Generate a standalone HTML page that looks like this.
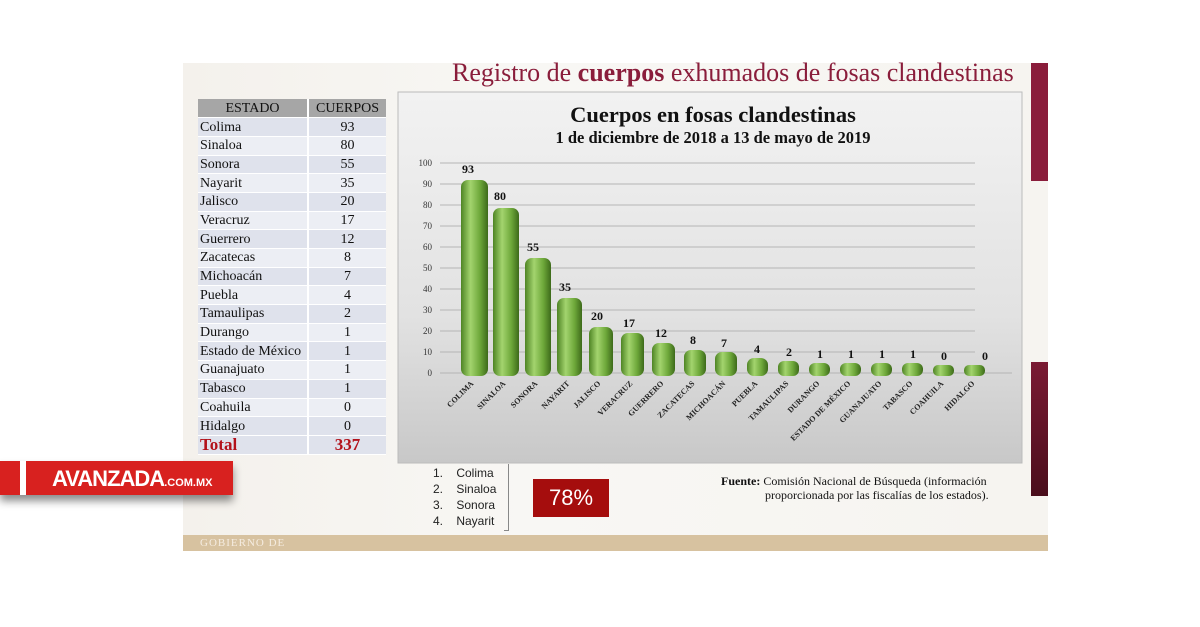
<!DOCTYPE html>
<html><head><meta charset="utf-8"><style>
body{margin:0;width:1200px;height:627px;background:#fff;position:relative;overflow:hidden;font-family:"Liberation Serif",serif}
.abs{position:absolute}
#slide{left:183px;top:63px;width:865px;height:488px;background:linear-gradient(90deg,#f4f1ec,#f8f7f4 40%,#f6f4f0)}
table{border-collapse:collapse;font-size:14px;color:#111;table-layout:fixed}
td{height:18.7px;padding:0 2px;line-height:17px;border-bottom:1px solid #fff;box-sizing:border-box;white-space:nowrap;overflow:hidden}
</style></head><body>
<div id="slide" class="abs"></div>
<div class="abs" style="left:183px;top:535px;width:865px;height:16px;background:#d7c2a0"></div>
<div class="abs" style="left:200px;top:537px;font-size:11px;color:#f5ece0;letter-spacing:1px">GOBIERNO DE</div>
<div class="abs" style="left:1031px;top:63px;width:17px;height:118px;background:#8a1d3b"></div>
<div class="abs" style="left:1031px;top:362px;width:17px;height:134px;background:linear-gradient(#7a1a33,#4a0e1c)"></div>
<div class="abs" style="left:452px;top:58px;font-size:26px;color:#8a1d3b;white-space:nowrap">Registro de <b>cuerpos</b> exhumados de fosas clandestinas</div>
<table class="abs" style="left:198px;top:99px;width:188px">
<colgroup><col style="width:110px"><col style="width:78px"></colgroup>
<tr style="background:#a6a6a6"><td style="text-align:center">ESTADO</td><td style="text-align:center;border-left:2px solid #fff">CUERPOS</td></tr>
<tr style="background:#dfe2ec"><td>Colima</td><td style="text-align:center;border-left:2px solid #fff">93</td></tr>
<tr style="background:#eceef4"><td>Sinaloa</td><td style="text-align:center;border-left:2px solid #fff">80</td></tr>
<tr style="background:#dfe2ec"><td>Sonora</td><td style="text-align:center;border-left:2px solid #fff">55</td></tr>
<tr style="background:#eceef4"><td>Nayarit</td><td style="text-align:center;border-left:2px solid #fff">35</td></tr>
<tr style="background:#dfe2ec"><td>Jalisco</td><td style="text-align:center;border-left:2px solid #fff">20</td></tr>
<tr style="background:#eceef4"><td>Veracruz</td><td style="text-align:center;border-left:2px solid #fff">17</td></tr>
<tr style="background:#dfe2ec"><td>Guerrero</td><td style="text-align:center;border-left:2px solid #fff">12</td></tr>
<tr style="background:#eceef4"><td>Zacatecas</td><td style="text-align:center;border-left:2px solid #fff">8</td></tr>
<tr style="background:#dfe2ec"><td>Michoacán</td><td style="text-align:center;border-left:2px solid #fff">7</td></tr>
<tr style="background:#eceef4"><td>Puebla</td><td style="text-align:center;border-left:2px solid #fff">4</td></tr>
<tr style="background:#dfe2ec"><td>Tamaulipas</td><td style="text-align:center;border-left:2px solid #fff">2</td></tr>
<tr style="background:#eceef4"><td>Durango</td><td style="text-align:center;border-left:2px solid #fff">1</td></tr>
<tr style="background:#dfe2ec"><td>Estado de México</td><td style="text-align:center;border-left:2px solid #fff">1</td></tr>
<tr style="background:#eceef4"><td>Guanajuato</td><td style="text-align:center;border-left:2px solid #fff">1</td></tr>
<tr style="background:#dfe2ec"><td>Tabasco</td><td style="text-align:center;border-left:2px solid #fff">1</td></tr>
<tr style="background:#eceef4"><td>Coahuila</td><td style="text-align:center;border-left:2px solid #fff">0</td></tr>
<tr style="background:#dfe2ec"><td>Hidalgo</td><td style="text-align:center;border-left:2px solid #fff">0</td></tr>
<tr style="background:#dfe2ec;color:#b3111a;font-weight:bold;font-size:17px"><td>Total</td><td style="text-align:center;border-left:2px solid #fff">337</td></tr>
</table>
<svg class="abs" style="left:0;top:0" width="1200" height="627">
<defs>
<linearGradient id="bg" x1="0" y1="0" x2="0" y2="1"><stop offset="0" stop-color="#f2f2f2"/><stop offset="0.6" stop-color="#e2e2e2"/><stop offset="1" stop-color="#c8c8c8"/></linearGradient>
</defs>
<rect x="398" y="92" width="624" height="371" fill="url(#bg)" stroke="#bbb"/>
<text x="713" y="122" font-size="22.5" font-weight="bold" text-anchor="middle" fill="#111">Cuerpos en fosas clandestinas</text>
<text x="713" y="143" font-size="16.5" font-weight="bold" text-anchor="middle" fill="#111">1 de diciembre de 2018 a  13 de mayo de 2019</text>
</svg>
<div class="abs" style="left:0;top:461px;width:233px;height:34px;background:#d8211f;box-shadow:0 6px 8px rgba(0,0,0,.45)"></div>
<div class="abs" style="left:20px;top:461px;width:6px;height:34px;background:#fff"></div>
<div class="abs" style="left:52px;top:466px;color:#fff;font-family:'Liberation Sans',sans-serif;font-weight:bold;font-size:22px;letter-spacing:-1px">AVANZADA<span style="font-size:11px;letter-spacing:0">.COM.MX</span></div>
<div class="abs" style="left:433px;top:465px;font-family:'Liberation Sans',sans-serif;font-size:12px;line-height:16px;color:#222">1.&nbsp;&nbsp;&nbsp;&nbsp;Colima<br>2.&nbsp;&nbsp;&nbsp;&nbsp;Sinaloa<br>3.&nbsp;&nbsp;&nbsp;&nbsp;Sonora<br>4.&nbsp;&nbsp;&nbsp;&nbsp;Nayarit</div>
<div class="abs" style="left:504px;top:464px;width:4px;height:66px;border-right:1px solid #888;border-bottom:1px solid #888"></div>
<div class="abs" style="left:533px;top:479px;width:76px;height:38px;background:#a50d0d;color:#fff;font-family:'Liberation Sans',sans-serif;font-size:22px;line-height:38px;text-align:center">78%</div>
<div class="abs" style="left:718px;top:474px;font-size:12px;color:#111;line-height:14px">&nbsp;<b>Fuente:</b> Comisión Nacional de Búsqueda (información<br>&nbsp;<span style="padding-left:44px">proporcionada por las fiscalías de los estados).</span></div>
<svg class="abs" style="left:0;top:0" width="1200" height="627">
<g stroke="#b5b5b5" stroke-width="1">
<line x1="440" y1="373" x2="1012" y2="373"/><line x1="440" y1="352" x2="975" y2="352"/><line x1="440" y1="331" x2="975" y2="331"/><line x1="440" y1="310" x2="975" y2="310"/><line x1="440" y1="289" x2="975" y2="289"/><line x1="440" y1="268" x2="975" y2="268"/><line x1="440" y1="247" x2="975" y2="247"/><line x1="440" y1="226" x2="975" y2="226"/><line x1="440" y1="205" x2="975" y2="205"/><line x1="440" y1="184" x2="975" y2="184"/><line x1="440" y1="163" x2="975" y2="163"/>
</g>
<g font-size="9" fill="#333" text-anchor="end">
<text x="432" y="376">0</text><text x="432" y="355">10</text><text x="432" y="334">20</text><text x="432" y="313">30</text><text x="432" y="292">40</text><text x="432" y="271">50</text><text x="432" y="250">60</text><text x="432" y="229">70</text><text x="432" y="208">80</text><text x="432" y="187">90</text><text x="432" y="166">100</text>
</g>
<defs><linearGradient id="b2" x1="0" y1="0" x2="1" y2="0"><stop offset="0" stop-color="#4e8424"/><stop offset="0.35" stop-color="#a3d46e"/><stop offset="0.7" stop-color="#6ea83a"/><stop offset="1" stop-color="#3d6a1a"/></linearGradient></defs>
<g fill="url(#b2)">
<rect x="461" y="180" width="27" height="196" rx="7"/>
<rect x="493" y="208" width="26" height="168" rx="7"/>
<rect x="525" y="258" width="26" height="118" rx="7"/>
<rect x="557" y="298" width="25" height="78" rx="7"/>
<rect x="589" y="327" width="24" height="49" rx="7"/>
<rect x="621" y="333" width="23" height="43" rx="7"/>
<rect x="652" y="343" width="23" height="33" rx="7"/>
<rect x="684" y="350" width="22" height="26" rx="7"/>
<rect x="715" y="352" width="22" height="24" rx="7"/>
<rect x="747" y="358" width="21" height="18" rx="7"/>
<rect x="778" y="361" width="21" height="15" rx="6"/>
<rect x="809" y="363" width="21" height="13" rx="6"/>
<rect x="840" y="363" width="21" height="13" rx="6"/>
<rect x="871" y="363" width="21" height="13" rx="6"/>
<rect x="902" y="363" width="21" height="13" rx="6"/>
<rect x="933" y="365" width="21" height="11" rx="5"/>
<rect x="964" y="365" width="21" height="11" rx="5"/>
</g>
<g font-size="12" font-weight="bold" fill="#111" text-anchor="middle">
<text x="468" y="173">93</text><text x="500" y="200">80</text><text x="533" y="251">55</text><text x="565" y="291">35</text><text x="597" y="320">20</text><text x="629" y="327">17</text><text x="661" y="337">12</text><text x="693" y="344">8</text><text x="724" y="347">7</text><text x="757" y="353">4</text><text x="789" y="356">2</text><text x="820" y="358">1</text><text x="851" y="358">1</text><text x="882" y="358">1</text><text x="913" y="358">1</text><text x="944" y="360">0</text><text x="985" y="360">0</text>
</g>
<g font-size="8" font-weight="bold" fill="#222" text-anchor="end">
<text transform="translate(474,384) rotate(-45)">COLIMA</text>
<text transform="translate(506,384) rotate(-45)">SINALOA</text>
<text transform="translate(538,384) rotate(-45)">SONORA</text>
<text transform="translate(570,384) rotate(-45)">NAYARIT</text>
<text transform="translate(601,384) rotate(-45)">JALISCO</text>
<text transform="translate(633,384) rotate(-45)">VERACRUZ</text>
<text transform="translate(664,384) rotate(-45)">GUERRERO</text>
<text transform="translate(695,384) rotate(-45)">ZACATECAS</text>
<text transform="translate(726,384) rotate(-45)">MICHOACÁN</text>
<text transform="translate(758,384) rotate(-45)">PUEBLA</text>
<text transform="translate(789,384) rotate(-45)">TAMAULIPAS</text>
<text transform="translate(820,384) rotate(-45)">DURANGO</text>
<text transform="translate(851,384) rotate(-45)">ESTADO DE MÉXICO</text>
<text transform="translate(882,384) rotate(-45)">GUANAJUATO</text>
<text transform="translate(913,384) rotate(-45)">TABASCO</text>
<text transform="translate(944,384) rotate(-45)">COAHUILA</text>
<text transform="translate(975,384) rotate(-45)">HIDALGO</text>
</g>
</svg>
</body></html>
